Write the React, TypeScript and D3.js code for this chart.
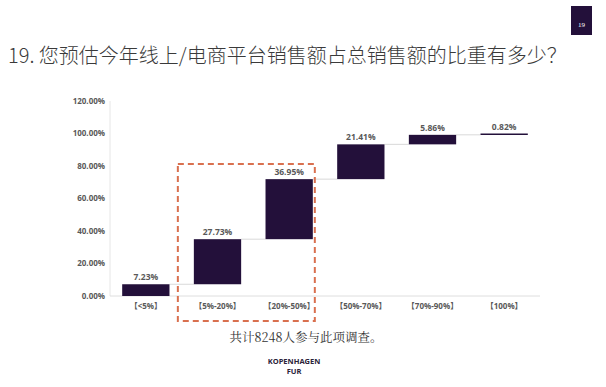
import React from 'react'
import * as d3 from 'd3'

const categories = ['【<5%】', '【5%-20%】', '【20%-50%】', '【50%-70%】', '【70%-90%】', '【100%】']
const values = [7.23, 27.73, 36.95, 21.41, 5.86, 0.82]
const yTickValues = [0, 20, 40, 60, 80, 100, 120]

const title = '19. 您预估今年线上/电商平台销售额占总销售额的比重有多少？'
const footnote = '共计8248人参与此项调查。'

export default function App() {
  const width = 606
  const height = 387
  const plot = { left: 110, right: 540, top: 101, bottom: 296 }

  const x = d3.scaleBand<string>().domain(categories).range([plot.left, plot.right]).paddingInner(0.34).paddingOuter(0.17)
  const y = d3.scaleLinear().domain([0, 120]).range([plot.bottom, plot.top])

  // running totals for the waterfall
  const steps = values.map((v, i) => {
    const start = d3.sum(values.slice(0, i))
    return { cat: categories[i], value: v, start, end: start + v }
  })

  const fmt = (v: number) => v.toFixed(2) + '%'
  const labelFont = '"Open Sans", "Noto Sans CJK SC", sans-serif'

  const box = {
    x0: (x(categories[1]) ?? 0) - 16,
    x1: (x(categories[2]) ?? 0) + x.bandwidth() + 2,
  }

  return (
    <svg width={width} height={height} viewBox={`0 0 ${width} ${height}`}
      style={{ position: 'fixed', left: 0, top: 0, background: '#fff' }}>
      <rect x={571} y={6} width={21} height={29} fill="#23103a" />
      <text x={581.5} y={27} textAnchor="middle" fill="#fff" fontSize={7} fontFamily="serif">19</text>

      <text x={8} y={63} fontSize={20} fontWeight={300} fill="#3a3a3a"
        fontFamily='"Noto Sans CJK SC", sans-serif'>{title}</text>

      {/* axes */}
      <line x1={plot.left} x2={plot.left} y1={plot.top} y2={plot.bottom} stroke="#e6e6e6" />
      <line x1={plot.left} x2={plot.right} y1={y(0)} y2={y(0)} stroke="#dedede" />
      {yTickValues.map(t => (
        <text key={t} x={105} y={y(t)} dy="0.35em" textAnchor="end" fontSize={8} fontWeight={700}
          fill="#595959" fontFamily={labelFont}>{fmt(t)}</text>
      ))}

      {/* connectors */}
      {steps.slice(0, -1).map((s, i) => (
        <line key={'c' + i} x1={(x(s.cat) ?? 0) + x.bandwidth()} x2={x(categories[i + 1]) ?? 0}
          y1={y(s.end)} y2={y(s.end)} stroke="#d9d9d9" strokeWidth={1} />
      ))}

      {steps.map(s => (
        <g key={s.cat}>
          <rect x={x(s.cat)} width={x.bandwidth()} y={y(s.end)} height={Math.max(1.5, y(s.start) - y(s.end))} fill="#23103a" />
          <text x={(x(s.cat) ?? 0) + x.bandwidth() / 2} y={y(s.end) - 4} textAnchor="middle" fontSize={8.5}
            fontWeight={700} fill="#595959" fontFamily={labelFont}>{fmt(s.value)}</text>
          <text x={(x(s.cat) ?? 0) + x.bandwidth() / 2} y={306} dy="0.35em" textAnchor="middle" fontSize={8}
            fontWeight={700} fill="#595959" fontFamily={labelFont}>{s.cat}</text>
        </g>
      ))}

      <rect x={box.x0} y={164} width={box.x1 - box.x0} height={157} fill="none" stroke="#d9704f"
        strokeWidth={2} strokeDasharray="6 4" />

      <text x={306} y={342} textAnchor="middle" fontSize={12.5} fill="#333" fontFamily='"Noto Serif CJK SC", "Noto Sans CJK SC", serif'>{footnote}</text>
      <text x={294} y={364} textAnchor="middle" fontSize={7.5} fontWeight={700} fill="#2a2238" fontFamily={labelFont}>KOPENHAGEN</text>
      <text x={294} y={374} textAnchor="middle" fontSize={7.5} fontWeight={700} fill="#2a2238" fontFamily={labelFont}>FUR</text>
    </svg>
  )
}
